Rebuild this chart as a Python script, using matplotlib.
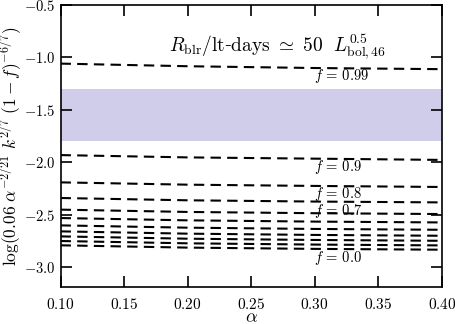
import numpy as np
import matplotlib.pyplot as plt

plt.rcParams['mathtext.fontset'] = 'cm'
plt.rcParams['font.family'] = 'serif'
plt.rcParams['font.serif'] = ['DejaVu Serif']

# values at a few alpha points
alpha = [0.10, 0.20, 0.30, 0.40]
f_vals = ['0.0', '0.1', '0.2', '0.3', '0.4', '0.5', '0.6', '0.7', '0.8', '0.9', '0.99']
curves = [
    [-2.792, -2.814, -2.826, -2.834],
    [-2.751, -2.773, -2.785, -2.793],
    [-2.707, -2.729, -2.741, -2.749],
    [-2.659, -2.681, -2.693, -2.701],
    [-2.602, -2.624, -2.636, -2.644],
    [-2.532, -2.554, -2.566, -2.574],
    [-2.452, -2.474, -2.486, -2.494],
    [-2.341, -2.363, -2.375, -2.383],
    [-2.192, -2.214, -2.226, -2.236],
    [-1.932, -1.954, -1.966, -1.978],
    [-1.060, -1.085, -1.102, -1.113],
]
band = (-1.795, -1.3)
label_offset = {'0.99': 0.075, '0.9': 0.075, '0.8': 0.078, '0.7': 0.092, '0.0': 0.085}

fig, ax = plt.subplots(figsize=(4.55, 3.24), dpi=100)
ax.axhspan(band[0], band[1], color='#cfcde9', lw=0)

for f, y in zip(f_vals, curves):
    ax.plot(alpha, y, 'k--', lw=1.5, dashes=(5, 3))
    if f in label_offset:
        ax.text(0.2995, np.interp(0.31, alpha, y) - label_offset[f], r'$f\,=\,%s$' % f,
                fontsize=10.5, va='center', ha='left')

ax.text(0.271, -0.9, r'$R_{\rm blr}/{\rm lt}$-${\rm days}\ \simeq\ 50\ \ L_{\rm bol,46}^{0.5}$',
        fontsize=14, ha='center', va='center')

xt = np.arange(0.10, 0.401, 0.05)
yt = np.arange(-3.0, -0.49, 0.5)
ax.set_xlim(0.1, 0.4)
ax.set_ylim(-3.19, -0.5)
ax.set_xticks(xt)
ax.set_xticklabels([r'$%.2f$' % v for v in xt])
ax.set_yticks(yt)
ax.set_yticklabels([r'$%.1f$' % v for v in yt])
ax.tick_params(direction='in', top=True, right=True, length=8, width=1.2, labelsize=11)
ax.tick_params(axis='x', pad=7)
ax.tick_params(axis='y', pad=4, labelsize=10.5)
ax.set_xlabel(r'$\alpha$', fontsize=13, va='center')
ax.xaxis.set_label_coords(0.5, -0.108)
ax.set_ylabel(r'$\log(0.06\ \alpha^{-2/21}\ k^{2/7}\ (1-f)^{-6/7})$', fontsize=12.5, va='center')
ax.yaxis.set_label_coords(-0.128, 0.5)
for s in ax.spines.values():
    s.set_linewidth(1.2)

fig.subplots_adjust(left=0.133, right=0.971, bottom=0.114, top=0.985)
fig.savefig('out.png', dpi=100)
